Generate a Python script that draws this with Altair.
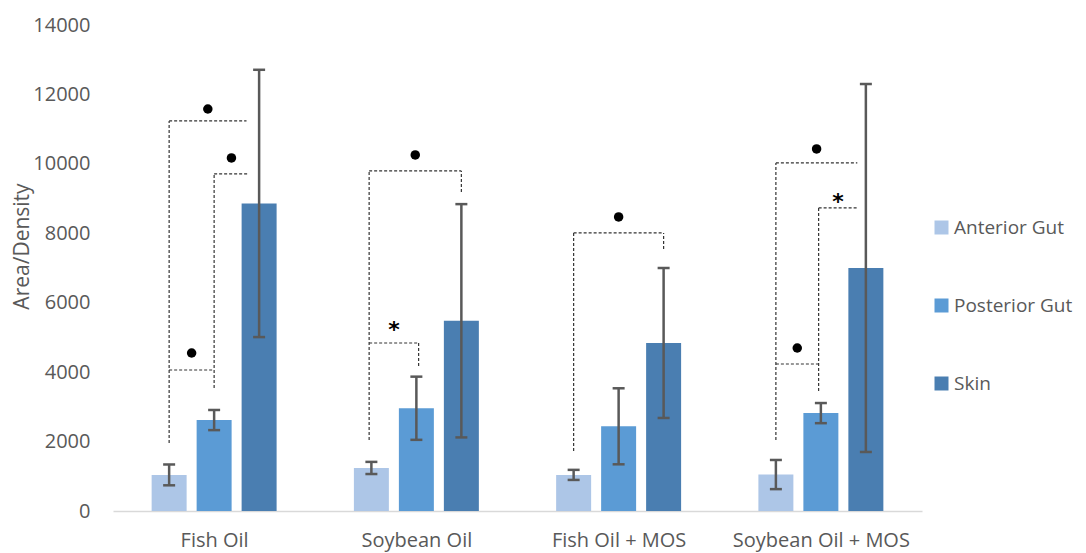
import altair as alt
import pandas as pd

groups = ["Fish Oil", "Soybean Oil", "Fish Oil + MOS", "Soybean Oil + MOS"]
series = ["Anterior Gut", "Posterior Gut", "Skin"]
colors = ["#adc6e7", "#5b9bd5", "#4a7eb1"]

anterior = [1040, 1240, 1040, 1050]
anterior_err = [300, 175, 145, 420]
posterior = [2620, 2960, 2440, 2820]
posterior_err = [290, 910, 1095, 290]
skin = [8860, 5480, 4840, 7000]
skin_err = [3850, 3360, 2160, 5300]

# significance brackets (positions in series slots: -1 anterior, 0 posterior, 1 skin)
br_group = [0, 0, 0, 1, 1, 2, 3, 3, 3]
br_left = [-1, 0, -1, -1.05, -1.05, -1, -1, -0.05, -1]
br_right = [0.72, 0.77, 0, 1, 0.05, 1, 0.81, 0.81, -0.05]
br_level = [11236, 9710, 4062, 9795, 4840, 8009, 10026, 8730, 4235]
br_left_bottom = [1960, 3544, None, 2045, None, 1729, 2045, 3457, None]
br_right_bottom = [None, None, None, 9190, 4177, 7548, None, None, None]
br_symbol = ["dot", "dot", "dot", "dot", "star", "dot", "dot", "star", "dot"]
br_symbol_y = [11580, 10170, 4552, 10256, 5359, 8470, 10429, 9046, 4696]

STEP = 45 / 202.3
HALF = 17.5 / 202.3
CAP = 6 / 202.3

rows = []
for s_i, (vals, errs) in enumerate([(anterior, anterior_err), (posterior, posterior_err), (skin, skin_err)]):
    for g_i, g in enumerate(groups):
        xc = g_i + (s_i - 1) * STEP
        rows.append(dict(group=g, series=series[s_i], value=vals[g_i], zero=0,
                         lo=vals[g_i] - errs[g_i], hi=vals[g_i] + errs[g_i],
                         xc=xc, xl=xc - HALF, xr=xc + HALF, cl=xc - CAP, cr=xc + CAP))
df = pd.DataFrame(rows)

caps = pd.concat([df[["cl", "cr", "lo"]].rename(columns={"lo": "yv"}),
                  df[["cl", "cr", "hi"]].rename(columns={"hi": "yv"})])

segs, dots, stars = [], [], []
for i in range(len(br_group)):
    g = br_group[i]
    xl = g + br_left[i] * STEP
    xr = g + br_right[i] * STEP
    lvl = br_level[i]
    segs.append(dict(x=xl, x2=xr, y=lvl, y2=lvl))
    if br_left_bottom[i] is not None:
        segs.append(dict(x=xl, x2=xl, y=br_left_bottom[i], y2=lvl))
    if br_right_bottom[i] is not None:
        segs.append(dict(x=xr, x2=xr, y=br_right_bottom[i], y2=lvl))
    sym = dict(x=(xl + xr) / 2, y=br_symbol_y[i])
    (dots if br_symbol[i] == "dot" else stars).append(sym)
segs = pd.DataFrame(segs)
dots = pd.DataFrame(dots)
stars = pd.DataFrame(stars)

x_scale = alt.Scale(domain=[-0.5, 3.5], nice=False, zero=False)
y_scale = alt.Scale(domain=[0, 14000], nice=False)

label_expr = "[" + ",".join(f"'{g}'" for g in groups) + "][datum.value]"
x_axis = alt.Axis(values=[0, 1, 2, 3], labelExpr=label_expr, title=None, ticks=False, grid=False,
                  domainColor="#d9d9d9", domainWidth=1.5, labelFontSize=20, labelColor="#595959",
                  labelPadding=19, labelFont="Open Sans")
y_axis = alt.Axis(values=list(range(0, 14001, 2000)), format="d", title="Area/Density", ticks=False,
                  grid=False, domain=False, labelFontSize=20, labelColor="#595959", labelPadding=23,
                  labelFont="Open Sans", titleFont="Open Sans", titleFontSize=21, titleColor="#595959",
                  titleFontWeight="normal", titleX=-81, titleY=221, titleBaseline="bottom",
                  titleAngle=270)


def X(field):
    return alt.X(field, scale=x_scale, axis=x_axis)


def Y(field):
    return alt.Y(field, scale=y_scale, axis=y_axis)


bars = alt.Chart(df).mark_bar().encode(
    x=X("xl:Q"),
    x2="xr:Q",
    y=Y("value:Q"),
    y2="zero:Q",
    color=alt.Color("series:N", scale=alt.Scale(domain=series, range=colors),
                    legend=alt.Legend(title=None, orient="none", legendX=819, legendY=193,
                                      symbolType="square", symbolSize=196, symbolStrokeWidth=0,
                                      labelFontSize=19, labelColor="#595959", rowPadding=58,
                                      labelOffset=3, labelFont="Open Sans")),
)

err = alt.Chart(df).mark_rule(color="#595959", strokeWidth=2.5).encode(
    x=X("xc:Q"), y=Y("lo:Q"), y2="hi:Q",
)
cap_rules = alt.Chart(caps).mark_rule(color="#595959", strokeWidth=2.5).encode(
    x=X("cl:Q"), x2="cr:Q", y=Y("yv:Q"),
)
brackets = alt.Chart(segs).mark_rule(color="#333333", strokeWidth=1.2, strokeDash=[3, 2]).encode(
    x=X("x:Q"), x2="x2:Q", y=Y("y:Q"), y2="y2:Q",
)
dot_marks = alt.Chart(dots).mark_circle(size=90, color="black", opacity=1).encode(
    x=X("x:Q"), y=Y("y:Q"),
)
star_marks = alt.Chart(stars).mark_text(text="*", font="DejaVu Sans", fontWeight="bold", fontSize=22,
                                        color="black", baseline="alphabetic", dy=12).encode(
    x=X("x:Q"), y=Y("y:Q"),
)

chart = alt.layer(bars, err, cap_rules, brackets, dot_marks, star_marks).properties(
    width=809, height=486,
    autosize=alt.AutoSizeParams(type="none"),
    padding={"left": 105, "top": 17, "right": 156, "bottom": 45},
).configure(font="Open Sans").configure_view(stroke=None)

chart.save("out.html", embed_options={"renderer": "svg", "actions": False})
